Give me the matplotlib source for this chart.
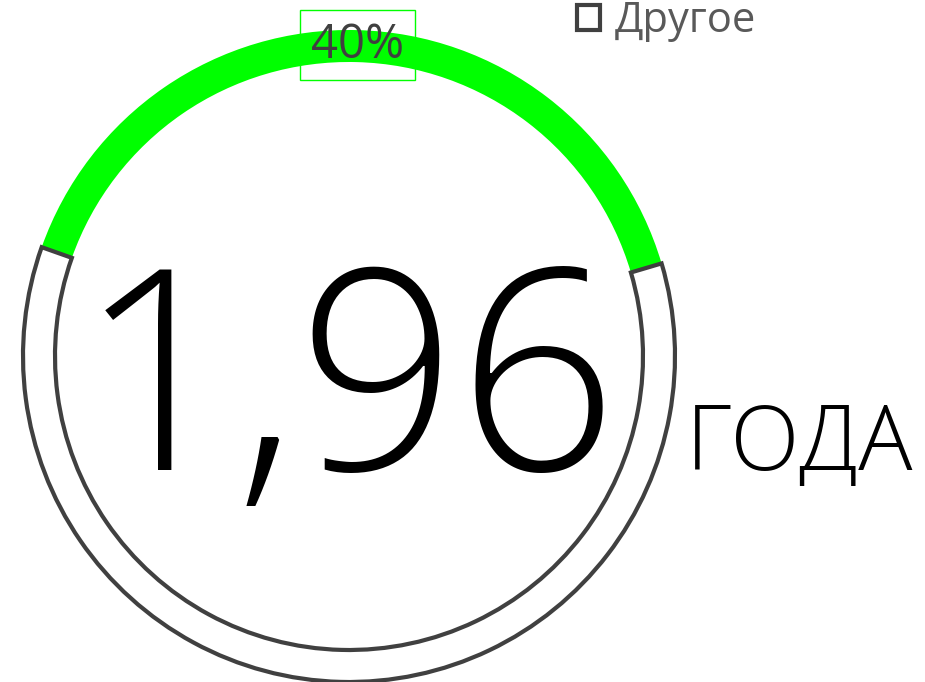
import matplotlib.pyplot as plt

# данные
categories = ['Значение', 'Другое']
values = [40, 60]
big_value = '1,96'
unit = 'ГОДА'

W, H = 925, 682
fig = plt.figure(figsize=(W / 100, H / 100), dpi=100)
ax = fig.add_axes([0, 0, 1, 1])

plt.rcParams['font.family'] = ['Open Sans', 'DejaVu Sans']

# кольцо
wedges, texts, autotexts = ax.pie(
    values,
    radius=326,
    center=(349, H - 356),
    startangle=160.5,
    counterclock=False,
    colors=['#00ff00', 'white'],
    autopct=lambda p: f'{p:.0f}%' if p < 50 else '',
    pctdistance=0.954,
    wedgeprops=dict(width=32, linewidth=0),
    textprops=dict(fontsize=34, color='#404040'),
)
wedges[1].set_edgecolor('#404040')
wedges[1].set_linewidth(3)
autotexts[0].set_bbox(dict(boxstyle='square,pad=0.23', facecolor='none', edgecolor='#00ff00', linewidth=1))

ax.set_xlim(0, W)
ax.set_ylim(0, H)
ax.set_axis_off()

# большое число и подпись
ax.text(348, H - 470, big_value, fontsize=202, color='black', ha='center', va='baseline', fontweight='light')
ax.text(686, H - 470, unit, fontsize=65, color='black', ha='left', va='baseline', fontweight='light')

# легенда
leg = ax.legend([wedges[1]], [categories[1]], loc='lower left', bbox_to_anchor=(577 / W, (H - 42) / H),
                frameon=False, fontsize=30, handlelength=0.55, handleheight=0.55, handletextpad=0.35,
                borderpad=0, borderaxespad=0, labelcolor='#595959')

fig.savefig('out.png', dpi=100)
